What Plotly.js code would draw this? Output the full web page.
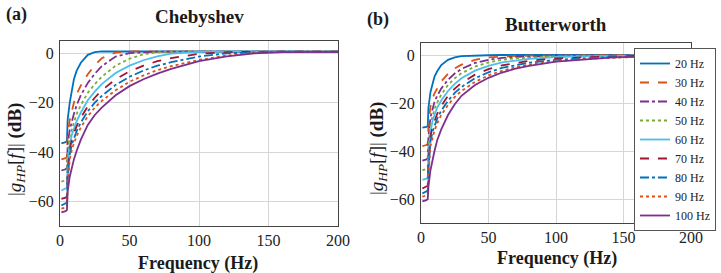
<!DOCTYPE html>
<html>
<head>
<meta charset="utf-8">
<script src="https://cdn.plot.ly/plotly-3.0.1.min.js"></script>
<style>html,body{margin:0;padding:0;background:#fff;}#chart{width:721px;height:273px;}</style>
</head>
<body>
<div id="chart"></div>
<script>
// Frequency samples (Hz)
const freq = [1, 4, 5, 5.5, 7, 8.5, 10, 12, 15, 20, 25, 30, 40, 50, 60, 70, 80, 100, 120, 140, 160, 200];
const seriesNames = ["20 Hz", "30 Hz", "40 Hz", "50 Hz", "60 Hz", "70 Hz", "80 Hz", "90 Hz", "100 Hz"];

// Chebyshev |g_HP[f]| (dB)
const cheb20  = [-36.5,-36,-35.5,-27,-20,-14.5,-10.5,-7,-3.8,-0.6,0.5,0.8,0.8,0.8,0.7,0.7,0.7,0.7,0.7,0.7,0.7,0.7];
const cheb30  = [-43,-42.5,-42,-33,-27,-23,-20,-16.5,-13,-8.5,-4.8,-2,0.3,0.8,0.7,0.7,0.7,0.7,0.7,0.7,0.7,0.7];
const cheb40  = [-47.5,-47,-46.5,-37,-31,-27.5,-24.5,-21,-17,-12,-8.3,-5.2,-1.3,0.1,0.5,0.7,0.7,0.7,0.7,0.7,0.7,0.7];
const cheb50  = [-52,-51.5,-51,-41,-34,-30.5,-28,-24.5,-21,-16,-12.5,-9.5,-5,-2.2,-0.4,0.4,0.7,0.7,0.7,0.7,0.7,0.7];
const cheb60  = [-55.6,-55,-54.5,-45,-37,-33,-30.5,-27.5,-24,-19,-15.5,-12.5,-8,-5,-2.8,-1.2,-0.1,0.6,0.7,0.7,0.7,0.7];
const cheb70  = [-59,-58.5,-58,-48,-39,-35,-32.5,-29.5,-26,-21.5,-18,-15,-10.5,-7.3,-5,-3.2,-1.9,-0.2,0.5,0.7,0.7,0.7];
const cheb80  = [-61.7,-61,-60.5,-51,-41,-37,-34.5,-31.5,-28,-23.5,-20,-17.3,-12.8,-9.5,-7,-5,-3.6,-1.3,0,0.5,0.7,0.7];
const cheb90  = [-63,-62.5,-62,-53,-43,-39,-36.5,-33.5,-30,-25.5,-22,-19.3,-15,-11.5,-9,-6.8,-5.2,-2.7,-0.9,0.2,0.6,0.7];
const cheb100 = [-64.5,-64,-63.5,-56,-50,-46,-43,-39.5,-35,-29,-25,-22,-17,-13.3,-10.5,-8.2,-6.3,-3.2,-1.2,0,0.5,0.6];

// Butterworth |g_HP[f]| (dB)
const butt20  = [-30.3,-30,-29.5,-22,-15.5,-11.5,-9,-6.8,-4.2,-2,-1,-0.5,-0.2,-0.1,0,0,0,0,0,0,0,0];
const butt30  = [-38,-37.5,-37,-29,-21.5,-18,-16,-13.8,-11,-7.8,-5.6,-4,-2,-1,-0.6,-0.4,-0.3,-0.15,-0.1,-0.1,-0.05,0];
const butt40  = [-44,-43.5,-43,-34,-26,-22,-19.5,-17,-14,-10.3,-7.7,-5.8,-3.3,-2,-1.2,-0.8,-0.6,-0.3,-0.2,-0.1,-0.1,0];
const butt50  = [-48,-47.5,-47,-38,-29,-25,-22.5,-19.8,-16.5,-12.5,-9.7,-7.6,-4.8,-3.1,-2,-1.4,-1,-0.5,-0.3,-0.2,-0.15,-0.1];
const butt60  = [-52,-51.5,-51,-42,-32,-27.5,-25,-22,-19,-15,-12,-9.7,-6.5,-4.5,-3.1,-2.2,-1.6,-0.9,-0.5,-0.35,-0.25,-0.1];
const butt70  = [-55.6,-55,-54.5,-45,-34,-30,-27.5,-24.5,-21.2,-17,-14,-11.6,-8.2,-5.9,-4.3,-3.2,-2.4,-1.4,-0.9,-0.6,-0.4,-0.2];
const butt80  = [-57.7,-57,-56.5,-48,-36,-32,-29.5,-26.5,-23.2,-19,-15.8,-13.3,-9.7,-7.2,-5.4,-4.2,-3.2,-2,-1.3,-0.9,-0.6,-0.3];
const butt90  = [-59,-58.5,-58,-50,-38,-34,-31.5,-28.5,-25,-20.8,-17.5,-15,-11.2,-8.5,-6.6,-5.1,-4,-2.6,-1.7,-1.2,-0.8,-0.4];
const butt100 = [-61,-60.5,-60,-55,-48,-43.5,-40,-35.5,-31,-25,-20.5,-17,-12.5,-9.5,-7.3,-5.7,-4.5,-2.8,-1.8,-1.1,-0.7,-0.3];

const xTicks = [0, 50, 100, 150, 200];
const yTicks = [-60, -40, -20, 0];

const chebSeries = [cheb20, cheb30, cheb40, cheb50, cheb60, cheb70, cheb80, cheb90, cheb100];
const buttSeries = [butt20, butt30, butt40, butt50, butt60, butt70, butt80, butt90, butt100];
const colors = ['#0072BD','#D95319','#7E2F8E','#77AC30','#4DBEEE','#A2142F','#0072BD','#D95319','#7E2F8E'];
const dashes = ['solid','dash','dashdot','dot','solid','dash','dashdot','dot','solid'];

const FONT = 'Liberation Serif, DejaVu Serif, serif';
const traces = [];
chebSeries.forEach((ys, i) => traces.push({
  x: freq, y: ys, xaxis: 'x', yaxis: 'y', type: 'scatter', mode: 'lines',
  name: seriesNames[i], showlegend: false,
  line: {color: colors[i], dash: dashes[i], width: 1.8}
}));
buttSeries.forEach((ys, i) => traces.push({
  x: freq, y: ys, xaxis: 'x2', yaxis: 'y2', type: 'scatter', mode: 'lines',
  name: seriesNames[i], showlegend: true,
  line: {color: colors[i], dash: dashes[i], width: 1.8}
}));

const W = 721, H = 273;
function px(x){return x / W;}
function py(y){return 1 - y / H;}

const axBase = {
  showline: true, linecolor: '#444', linewidth: 1, mirror: true,
  showgrid: true, gridcolor: '#d6d6d6', gridwidth: 1, zeroline: false,
  ticks: '', tickfont: {family: FONT, size: 16, color: '#222'}
};

function ann(text, x, y, size, angle) {
  const a = {text: text, x: px(x), y: py(y), xref: 'paper', yref: 'paper', xanchor: 'center', yanchor: 'middle',
    showarrow: false, font: {family: FONT, size: size, color: '#1a1a1a'}};
  if (angle) a.textangle = angle;
  return a;
}

const layout = {
  width: W, height: H,
  margin: {l: 0, r: 0, t: 0, b: 0},
  paper_bgcolor: '#fff', plot_bgcolor: '#fff',
  showlegend: true,
  xaxis: Object.assign({}, axBase, {domain: [px(60), px(338)], range: [0, 200], tickvals: xTicks, anchor: 'y'}),
  yaxis: Object.assign({}, axBase, {domain: [py(226), py(41)], range: [-70, 5], tickvals: yTicks, anchor: 'x', ticklabelstandoff: 2}),
  xaxis2: Object.assign({}, axBase, {domain: [px(421), px(691)], range: [0, 200], tickvals: xTicks, anchor: 'y2'}),
  yaxis2: Object.assign({}, axBase, {domain: [py(223), py(43)], range: [-70, 5], tickvals: yTicks, anchor: 'x2', ticklabelstandoff: 2}),
  legend: {
    x: px(634), y: py(48), xanchor: 'left', yanchor: 'top',
    bgcolor: '#fff', bordercolor: '#555', borderwidth: 1,
    font: {family: FONT, size: 12, color: '#222'},
    tracegroupgap: 0, itemwidth: 30
  },
  annotations: [
    ann('<b>(a)</b>', 16, 14, 18),
    ann('<b>(b)</b>', 378, 20, 18),
    ann('<b>Chebyshev</b>', 199, 16, 19),
    ann('<b>Butterworth</b>', 556, 24, 19),
    ann('<b>Frequency (Hz)</b>', 198, 263, 18),
    ann('<b>Frequency (Hz)</b>', 557, 258, 18),
    ann('|<i>g</i><sub><i>HP</i></sub>[<i>f</i>]| <b>(dB)</b>', 16, 150, 19, -90),
    ann('|<i>g</i><sub><i>HP</i></sub>[<i>f</i>]| <b>(dB)</b>', 378, 149, 19, -90)
  ]
};

Plotly.newPlot('chart', traces, layout, {displayModeBar: false, staticPlot: true});
</script>
</body>
</html>
